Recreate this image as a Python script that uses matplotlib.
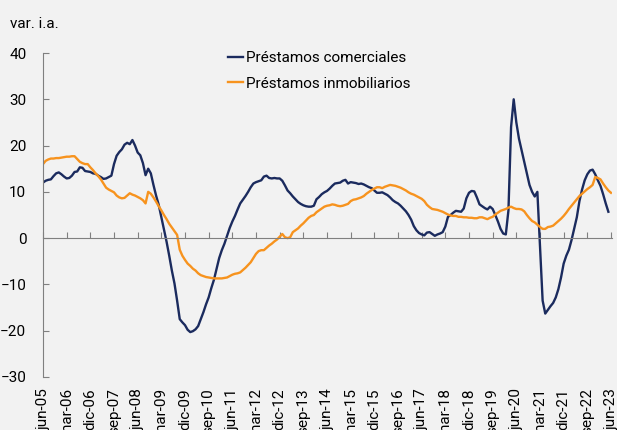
import numpy as np
import matplotlib
matplotlib.use("Agg")
import matplotlib.pyplot as plt

plt.rcParams['font.family'] = ['Roboto', 'DejaVu Sans']

# monthly, jun-05 onwards (var. i.a., %)
comerciales = [
    12.0, 12.4, 12.6, 12.7, 13.4, 14.0, 14.2, 13.8, 13.3, 12.9, 13.0, 13.5,
    14.3, 14.4, 15.3, 15.2, 14.5, 14.4, 14.3, 14.0, 13.9, 13.5, 13.2, 12.8,
    12.9, 13.2, 13.5, 16.0, 17.8, 18.6, 19.2, 20.2, 20.6, 20.3, 21.2, 20.0,
    18.5, 17.9, 16.2, 13.6, 15.0, 14.0, 11.5, 9.2, 7.2, 4.5, 1.7, -0.8,
    -3.8, -7.0, -9.8, -13.5, -17.5, -18.2, -18.8, -19.8, -20.3, -20.1, -19.7, -19.0,
    -17.5, -16.0, -14.3, -12.8, -10.8, -9.0, -6.6, -4.3, -2.6, -1.2, 0.5, 2.2,
    3.6, 4.8, 6.2, 7.5, 8.3, 9.1, 10.0, 11.0, 11.8, 12.1, 12.3, 12.5,
    13.3, 13.5, 13.0, 12.9, 13.0, 12.9, 12.9, 12.4, 11.4, 10.3, 9.7, 9.0,
    8.4, 7.8, 7.4, 7.1, 6.9, 6.8, 6.8, 7.0, 8.4, 8.9, 9.5, 9.9,
    10.2, 10.7, 11.3, 11.8, 11.9, 12.0, 12.4, 12.6, 11.8, 12.1, 12.0, 11.9,
    11.7, 11.8, 11.6, 11.3, 11.0, 10.8, 10.3, 9.8, 9.8, 9.9, 9.6, 9.3,
    8.8, 8.2, 7.8, 7.5, 7.0, 6.4, 5.8, 5.0, 4.0, 2.6, 1.7, 1.1,
    0.8, 0.6, 1.2, 1.3, 0.9, 0.5, 0.8, 1.0, 1.3, 2.5, 4.6, 5.0,
    5.5, 5.9, 5.8, 5.7, 6.4, 8.6, 9.8, 10.2, 10.1, 8.8, 7.3, 6.9,
    6.5, 6.2, 6.8, 6.3, 5.0, 3.6, 2.0, 1.0, 0.8, 6.0, 24.0, 30.0,
    25.0, 21.5, 19.0, 16.5, 14.0, 11.5, 10.0, 9.0, 10.0, -2.0, -13.5, -16.3,
    -15.5, -14.7, -14.0, -12.8, -11.0, -8.5, -5.5, -3.8, -2.5, -0.4, 2.0, 4.5,
    8.0, 10.5, 12.5, 13.8, 14.6, 14.8, 13.8, 12.5, 11.3, 9.5, 7.5, 5.7,
]

inmobiliarios = [
    16.0, 16.7, 17.0, 17.2, 17.2, 17.3, 17.3, 17.4, 17.5, 17.6, 17.6, 17.7,
    17.7, 17.1, 16.5, 16.2, 16.0, 16.0, 15.3, 14.7, 14.0, 13.4, 12.7, 11.8,
    10.9, 10.5, 10.2, 9.9, 9.2, 8.8, 8.6, 8.7, 9.2, 9.7, 9.4, 9.2,
    8.9, 8.6, 8.2, 7.5, 10.0, 9.6, 8.8, 7.9, 6.9, 6.0, 5.0, 4.1,
    3.1, 2.3, 1.5, 0.7, -2.5, -3.8, -4.7, -5.5, -6.0, -6.6, -7.0, -7.6,
    -8.0, -8.2, -8.4, -8.5, -8.6, -8.7, -8.7, -8.7, -8.7, -8.6, -8.5, -8.2,
    -7.9, -7.7, -7.6, -7.4, -6.9, -6.4, -5.8, -5.2, -4.3, -3.4, -2.8, -2.6,
    -2.6, -2.1, -1.6, -1.2, -0.7, -0.3, 0.3, 0.9, 0.2, 0.0, 0.2, 1.3,
    1.7, 2.1, 2.7, 3.2, 3.8, 4.4, 4.8, 5.0, 5.6, 6.0, 6.4, 6.8,
    7.0, 7.1, 7.3, 7.2, 7.0, 6.9, 7.0, 7.2, 7.4, 8.0, 8.3, 8.4,
    8.6, 8.8, 9.1, 9.6, 10.0, 10.4, 10.7, 11.0, 11.0, 10.8, 11.1, 11.3,
    11.5, 11.4, 11.3, 11.1, 10.9, 10.6, 10.3, 9.9, 9.6, 9.4, 9.1, 8.8,
    8.5, 8.0, 7.2, 6.7, 6.3, 6.2, 6.1, 5.9, 5.7, 5.4, 5.1, 4.9,
    4.8, 4.8, 4.6, 4.6, 4.5, 4.5, 4.4, 4.4, 4.3, 4.3, 4.5, 4.5,
    4.3, 4.1, 4.4, 4.6, 5.1, 5.5, 5.9, 6.1, 6.3, 6.6, 6.8, 6.5,
    6.3, 6.3, 6.2, 5.8, 5.0, 4.3, 3.7, 3.4, 2.9, 2.4, 2.0, 2.0,
    2.4, 2.5, 2.7, 3.2, 3.7, 4.2, 4.8, 5.5, 6.3, 7.0, 7.7, 8.4,
    9.1, 9.6, 10.1, 10.6, 11.0, 11.5, 13.2, 13.0, 12.7, 11.8, 11.0, 10.3,
    9.8,
]

tick_labels = ["jun-05", "mar-06", "dic-06", "sep-07", "jun-08", "mar-09", "dic-09",
               "sep-10", "jun-11", "mar-12", "dic-12", "sep-13", "jun-14", "mar-15",
               "dic-15", "sep-16", "jun-17", "mar-18", "dic-18", "sep-19", "jun-20",
               "mar-21", "dic-21", "sep-22", "jun-23"]

NAVY = '#1b2b5e'
ORANGE = '#f7931e'
BG = '#f2f2f2'
GRAY = '#808080'

fig = plt.figure(figsize=(6.17, 4.30), dpi=100, facecolor=BG)
ax = fig.add_axes([0.0697, 0.1233, 0.9227, 0.7534], facecolor=BG)

x_com = np.arange(len(comerciales))
x_inm = np.arange(len(inmobiliarios))
ax.plot(x_com, comerciales, color=NAVY, lw=1.7, label="Préstamos comerciales")
ax.plot(x_inm, inmobiliarios, color=ORANGE, lw=1.7, label="Préstamos inmobiliarios")

ax.set_xlim(0, 216.5)
ax.set_ylim(-30, 40)
ax.set_yticks(range(-30, 41, 10))

for s in ['top', 'right']:
    ax.spines[s].set_visible(False)
ax.spines['left'].set_color(GRAY)
ax.spines['bottom'].set_color(GRAY)
ax.spines['bottom'].set_position(('data', 0))

ticks = np.arange(0, 217, 9)
ax.set_xticks(ticks)
ax.tick_params(axis='x', direction='in', length=4, color=GRAY, labelbottom=False)
ax.tick_params(axis='y', direction='in', length=4, color=GRAY, labelsize=11, pad=12)

# labels along the bottom edge
sec = ax.secondary_xaxis('bottom')
sec.set_xticks(ticks, tick_labels, rotation=90)
sec.tick_params(length=0, labelsize=11, pad=8)
sec.spines['bottom'].set_visible(False)

fig.text(0.017, 0.944, "var. i.a.", fontsize=11, va='center', ha='left')

ax.legend(loc='center left', bbox_to_anchor=(0.3695, 0.835), bbox_transform=fig.transFigure,
          frameon=False, fontsize=11, handlelength=1.0, handletextpad=0.15,
          labelspacing=0.75, borderpad=0, borderaxespad=0)

fig.savefig("out.png", dpi=100, facecolor=BG)
